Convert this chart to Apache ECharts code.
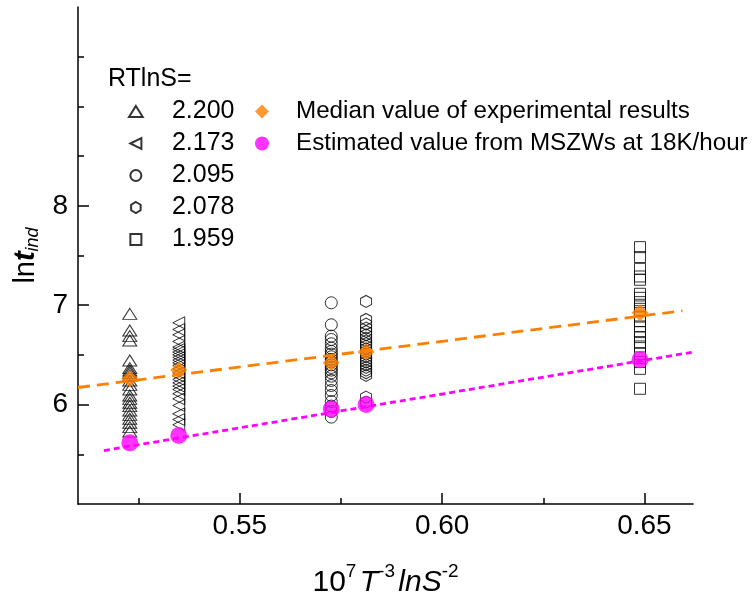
<!DOCTYPE html>
<html>
<head>
<meta charset="utf-8">
<title>Induction time vs 10^7 T^-3 lnS^-2</title>
<script src="https://cdn.jsdelivr.net/npm/echarts@6.0.0/dist/echarts.min.js"></script>
<style>
  html, body { margin: 0; padding: 0; background: #fff; }
  #chart { width: 754px; height: 596px; }
</style>
</head>
<body>
<div id="chart"></div>
<script>
// Supersaturation groups (RTlnS) and their x positions (10^7 T^-3 lnS^-2)
const groupNames = ['2.200', '2.173', '2.095', '2.078', '1.959'];
const groupX = [0.5228, 0.5349, 0.5726, 0.5812, 0.6489];

// Measured ln(t_ind) for each group
const run2200 = [6.913, 6.746, 6.689, 6.645, 6.444, 6.367, 6.343, 6.320, 6.293, 6.243, 6.199,
  6.152, 6.092, 6.058, 6.018, 5.985, 5.941, 5.897, 5.857, 5.817, 5.773, 5.730];
const run2173 = [6.823, 6.756, 6.702, 6.635, 6.578, 6.555, 6.528, 6.501, 6.474, 6.447, 6.421,
  6.394, 6.360, 6.320, 6.286, 6.253, 6.219, 6.186, 6.152, 6.109, 6.058, 5.991, 5.907, 5.850, 5.797];
const run2095 = [7.024, 6.803, 6.689, 6.655, 6.612, 6.568, 6.535, 6.508, 6.481, 6.454, 6.428,
  6.400, 6.374, 6.347, 6.320, 6.286, 6.243, 6.192, 6.142, 6.092, 6.031, 5.985, 5.931, 5.874];
const run2078 = [7.038, 6.857, 6.810, 6.770, 6.736, 6.702, 6.669, 6.642, 6.615, 6.588, 6.561,
  6.535, 6.508, 6.481, 6.454, 6.428, 6.400, 6.374, 6.347, 6.320, 6.293, 6.075, 6.025];
const run1959 = [7.584, 7.484, 7.366, 7.289, 7.256, 7.115, 7.074, 7.031, 6.987, 6.940, 6.886,
  6.840, 6.786, 6.729, 6.679, 6.629, 6.585, 6.511, 6.428, 6.360, 6.159];

// Median of the experiments and the MSZW-based estimate at each group
const medianValues = [6.26, 6.347, 6.42, 6.53, 6.924];
const estimatedValues = [5.615, 5.69, 5.955, 6.00, 6.452];

// Fitted straight lines (end points)
const medianFitX = [0.510, 0.6594];
const medianFitY = [6.172, 6.944];
const estimateFitX = [0.5164, 0.662];
const estimateFitY = [5.538, 6.528];

// Axis ticks
const xMajorTicks = [0.55, 0.60, 0.65];
const xMinorTicks = [0.525, 0.575, 0.625];
const yMajorTicks = [6, 7, 8];
const yMinorTicks = [5.5, 6.5, 7.5, 8.5, 9, 9.5];

const medianName = 'Median value of experimental results';
const estimateName = 'Estimated value from MSZWs at 18K/hour';

const FONT = '"Liberation Sans", Arial, sans-serif';
const groupRuns = [run2200, run2173, run2095, run2078, run1959];
// Path symbols keep their proportions inside legend icons
const groupSymbols = [
  'path://M5,0 L10,8 L0,8 Z',
  'path://M0,5 L10,0 L10,10 Z',
  'circle',
  'path://M5,0 L10,2.9 L10,8.7 L5,11.6 L0,8.7 L0,2.9 Z',
  'path://M0,0 L10,0 L10,10 L0,10 Z'
];
const groupSizes = [[14, 11], [12, 12], 12, [11, 12], 11];
const diamondSymbol = 'path://M5,0 L10,5 L5,10 L0,5 Z';

const hollowSeries = groupNames.map((name, i) => ({
  name: name,
  type: 'scatter',
  symbol: groupSymbols[i],
  symbolSize: groupSizes[i],
  data: groupRuns[i].map(v => [groupX[i], v]),
  itemStyle: { color: 'rgba(255,255,255,0)', borderColor: '#000', borderWidth: 1 },
  emphasis: { disabled: true },
  z: 2
}));

function pairs(xs, ys) { return xs.map((x, i) => [x, ys[i]]); }

const tickStyle = { color: '#000', width: 1.5 };

const option = {
  backgroundColor: '#fff',
  animation: false,
  textStyle: { fontFamily: FONT },
  title: {
    text: 'RTlnS=',
    left: 103, top: 62,
    textStyle: { fontFamily: FONT, fontSize: 25, fontWeight: 'normal', color: '#000' }
  },
  legend: [
    {
      data: groupNames,
      orient: 'vertical',
      left: 123, top: 94,
      itemWidth: 62, itemHeight: 11, itemGap: 7,
      selectedMode: false,
      textStyle: { fontFamily: FONT, fontSize: 25, color: '#000', lineHeight: 25 }
    },
    {
      data: [medianName, estimateName],
      orient: 'vertical',
      left: 250, top: 94,
      itemWidth: 58, itemHeight: 14, itemGap: 7,
      selectedMode: false,
      textStyle: { fontFamily: FONT, fontSize: 24.2, color: '#000', lineHeight: 25 }
    }
  ],
  grid: { left: 78, top: 7, width: 615, height: 497, outerBoundsMode: 'none' },
  xAxis: [
    {
      type: 'value', min: 0.51, max: 0.662,
      axisLine: { show: true, lineStyle: { color: '#000', width: 1.5 } },
      axisTick: { show: true, inside: true, length: 11, customValues: xMajorTicks, lineStyle: tickStyle },
      axisLabel: { customValues: xMajorTicks, formatter: v => v.toFixed(2), fontSize: 28, color: '#000', margin: 8, fontFamily: FONT },
      splitLine: { show: false },
      name: '{n|10}{sup|7} {i|T}{sup|-3} {i|lnS}{sup|-2}',
      nameLocation: 'middle', nameGap: 58,
      nameTextStyle: {
        rich: {
          n: { fontFamily: FONT, fontSize: 30, color: '#000', lineHeight: 36, verticalAlign: 'bottom' },
          i: { fontFamily: FONT, fontSize: 30, fontStyle: 'italic', color: '#000', lineHeight: 36, verticalAlign: 'bottom' },
          sup: { fontFamily: FONT, fontSize: 19, color: '#000', lineHeight: 19, verticalAlign: 'top' }
        }
      }
    },
    {
      type: 'value', min: 0.51, max: 0.662, position: 'bottom',
      axisLine: { show: false },
      axisTick: { show: true, inside: true, length: 6, customValues: xMinorTicks, lineStyle: tickStyle },
      axisLabel: { show: false },
      splitLine: { show: false }
    }
  ],
  yAxis: [
    {
      type: 'value', min: 5, max: 10,
      axisLine: { show: true, lineStyle: { color: '#000', width: 1.5 } },
      axisTick: { show: true, inside: true, length: 11, customValues: yMajorTicks, lineStyle: tickStyle },
      axisLabel: { customValues: yMajorTicks, fontSize: 28, color: '#000', margin: 10, fontFamily: FONT },
      splitLine: { show: false },
      name: '{n|ln}{i|t}{s|ind}',
      nameLocation: 'middle', nameRotate: 90, nameGap: 32,
      nameTextStyle: {
        rich: {
          n: { fontFamily: FONT, fontSize: 29, color: '#000', lineHeight: 30, verticalAlign: 'top' },
          i: { fontFamily: FONT, fontSize: 29, fontStyle: 'italic', fontWeight: 'bold', color: '#000', lineHeight: 30, verticalAlign: 'top' },
          s: { fontFamily: FONT, fontSize: 18, fontStyle: 'italic', color: '#000', lineHeight: 18, verticalAlign: 'bottom', padding: [20, 0, 0, 0] }
        }
      }
    },
    {
      type: 'value', min: 5, max: 10, position: 'left',
      axisLine: { show: false },
      axisTick: { show: true, inside: true, length: 6, customValues: yMinorTicks, lineStyle: tickStyle },
      axisLabel: { show: false },
      splitLine: { show: false }
    }
  ],
  series: hollowSeries.concat([
    {
      name: 'median fit', type: 'line', data: pairs(medianFitX, medianFitY),
      symbol: 'none', silent: true,
      lineStyle: { color: '#ff8000', width: 2.8, type: [12, 7] }, z: 3
    },
    {
      name: 'estimate fit', type: 'line', data: pairs(estimateFitX, estimateFitY),
      symbol: 'none', silent: true,
      lineStyle: { color: '#ff00ff', width: 2.8, type: [6, 4] }, z: 3
    },
    {
      name: medianName, type: 'scatter', symbol: diamondSymbol, symbolSize: [17, 17],
      data: pairs(groupX, medianValues),
      itemStyle: { color: '#ff8000' }, z: 4
    },
    {
      name: estimateName, type: 'scatter', symbol: 'circle', symbolSize: 17,
      data: pairs(groupX, estimatedValues),
      itemStyle: { color: '#ff00ff' }, z: 4
    }
  ])
};

const chart = echarts.init(document.getElementById('chart'), null, { renderer: 'canvas' });
chart.setOption(option);
</script>
</body>
</html>
